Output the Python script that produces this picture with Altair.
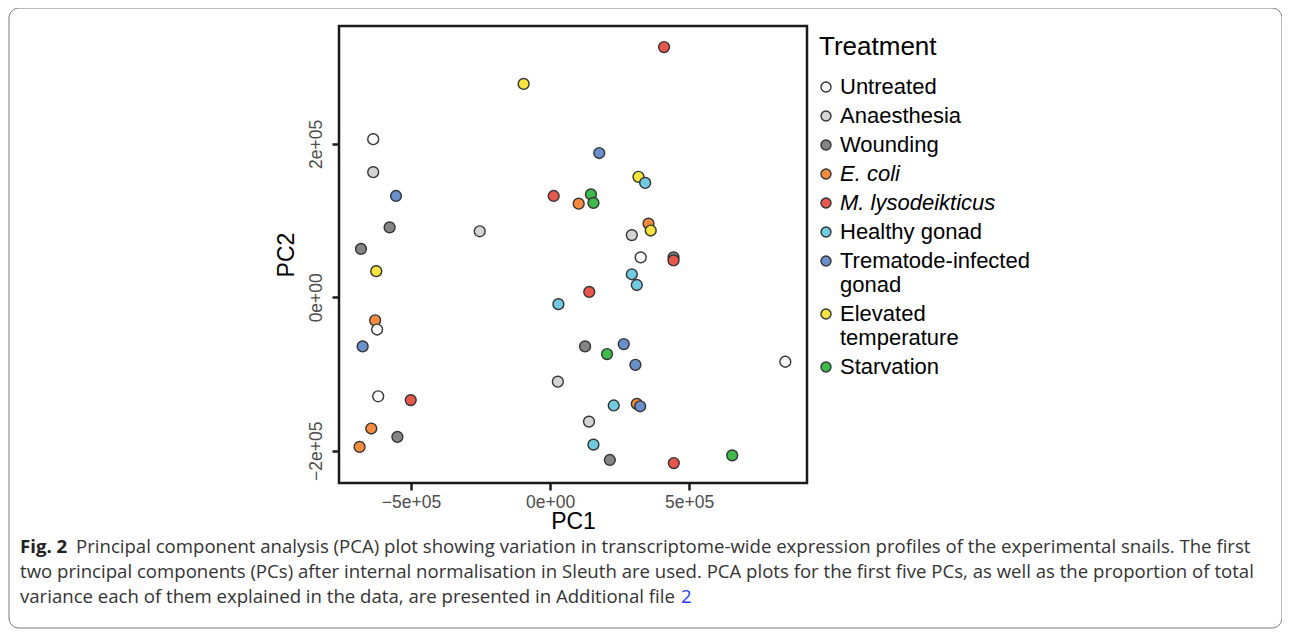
import altair as alt
import pandas as pd

# ---- data ----
treatment = [
    "M. lysodeikticus", "Elevated temperature", "Untreated", "Trematode-infected gonad",
    "Anaesthesia", "Elevated temperature", "Healthy gonad", "Trematode-infected gonad",
    "M. lysodeikticus", "Starvation", "E. coli", "Starvation",
    "Wounding", "E. coli", "Elevated temperature", "Anaesthesia",
    "Anaesthesia", "Wounding", "Untreated", "Wounding",
    "M. lysodeikticus", "Elevated temperature", "Healthy gonad", "Healthy gonad",
    "M. lysodeikticus", "Healthy gonad", "E. coli", "Untreated",
    "Trematode-infected gonad", "Wounding", "Trematode-infected gonad", "Starvation",
    "Trematode-infected gonad", "Untreated", "Anaesthesia", "Untreated",
    "M. lysodeikticus", "Healthy gonad", "E. coli", "Trematode-infected gonad",
    "Anaesthesia", "E. coli", "Wounding", "E. coli",
    "Healthy gonad", "Starvation", "Wounding", "M. lysodeikticus",
]
pc1 = [
    410000, -95000, -636000, 177000,
    -636000, 318000, 342000, -554000,
    13000, 147000, 103000, 156000,
    -577000, 354000, 362000, -253000,
    294000, -680000, 326000, 444000,
    444000, -625000, 294000, 312000,
    141000, 30000, -629000, -622000,
    -674000, 126000, 265000, 205000,
    307000, 846000, 28000, -618000,
    -501000, 229000, 312000, 324000,
    140000, -643000, -549000, -685000,
    156000, 655000, 215000, 445000,
]
pc2 = [
    326000, 278000, 206000, 188000,
    163000, 157000, 149000, 132000,
    132000, 134000, 122000, 123000,
    91000, 96000, 87000, 86000,
    81000, 63000, 52000, 52000,
    48000, 34000, 30000, 16000,
    7000, -9000, -30000, -42000,
    -64000, -64000, -61000, -74000,
    -88000, -84000, -110000, -129000,
    -134000, -141000, -139000, -142000,
    -162000, -171000, -182000, -195000,
    -192000, -206000, -212000, -216000,
]

legend_order = [
    "Untreated", "Anaesthesia", "Wounding", "E. coli", "M. lysodeikticus",
    "Healthy gonad", "Trematode-infected gonad", "Elevated temperature", "Starvation",
]
legend_colors = [
    "#ffffff", "#d4d4d4", "#858585", "#f58b3f", "#e8574b",
    "#70cbe0", "#6a8fcb", "#f4e43c", "#3dba4c",
]
legend_lines = [
    ["Untreated"], ["Anaesthesia"], ["Wounding"], ["E. coli"], ["M. lysodeikticus"],
    ["Healthy gonad"], ["Trematode-infected", "gonad"], ["Elevated", "temperature"], ["Starvation"],
]
italic_labels = ["E. coli", "M. lysodeikticus"]

x_tick_values = [-500000, 0, 500000]
x_tick_labels = ["\u22125e+05", "0e+00", "5e+05"]
y_tick_values = [-200000, 0, 200000]
y_tick_labels = ["\u22122e+05", "0e+00", "2e+05"]

caption_bold = "Fig. 2"
caption_line1 = ("Principal component analysis (PCA) plot showing variation in transcriptome-wide "
                 "expression profiles of the experimental snails. The first")
caption_line2 = ("two principal components (PCs) after internal normalisation in Sleuth are used. "
                 "PCA plots for the first five PCs, as well as the proportion of total")
caption_line3 = "variance each of them explained in the data, are presented in Additional file"
caption_link = "2"


def label_expr(values, labels, field="datum.value"):
    expr = "''"
    for v, l in zip(values, labels):
        expr = f"{field} == {v} ? '{l}' : ({expr})"
    return expr


def legend_label_expr():
    expr = "datum.label"
    for name, lines in zip(legend_order, legend_lines):
        if len(lines) > 1:
            arr = "[" + ", ".join(f"'{s}'" for s in lines) + "]"
            expr = f"datum.label == '{name}' ? {arr} : ({expr})"
    return expr


italic_expr = " || ".join(f"datum.label == '{s}'" for s in italic_labels) + " ? 'italic' : 'normal'"

df = pd.DataFrame({"PC1": pc1, "PC2": pc2, "Treatment": treatment, "ord": list(range(len(pc1)))})

FONT = "Liberation Sans"
CAP_FONT = "Open Sans"
CAP_SIZE = 18.6

points = alt.Chart(df).mark_circle(
    size=118, stroke="#333333", strokeWidth=1.4, opacity=1
).encode(
    x=alt.X(
        "PC1:Q",
        scale=alt.Scale(domain=[-759000, 924000], nice=False, zero=False),
        axis=alt.Axis(values=x_tick_values, labelExpr=label_expr(x_tick_values, x_tick_labels),
                      labelPadding=3, title="PC1", titlePadding=0),
    ),
    y=alt.Y(
        "PC2:Q",
        scale=alt.Scale(domain=[-242000, 353500], nice=False, zero=False),
        axis=alt.Axis(values=y_tick_values, labelExpr=label_expr(y_tick_values, y_tick_labels),
                      labelAngle=270, labelAlign="center", labelBaseline="bottom",
                      labelPadding=7, title="PC2", titlePadding=9),
    ),
    fill=alt.Fill(
        "Treatment:N",
        scale=alt.Scale(domain=legend_order, range=legend_colors),
        legend=alt.Legend(
            title="Treatment", orient="none", legendX=480, legendY=8,
            titleFontSize=26, titleFont=FONT, titleFontWeight="normal", titleColor="black",
            titlePadding=16,
            labelFontSize=22, labelFont=FONT, labelColor="black",
            labelFontStyle={"expr": italic_expr},
            labelExpr=legend_label_expr(), labelLimit=400,
            labelOffset=3, symbolOffset=-4,
            symbolType="circle", symbolSize=100, symbolStrokeColor="#333333",
            symbolStrokeWidth=1.4, rowPadding=7, padding=0,
        ),
    ),
    order=alt.Order("ord:Q"),
)

dummy = pd.DataFrame({"a": [0]})

border = alt.Chart(dummy).mark_rect(
    fillOpacity=0, stroke="#7a7a7a", strokeWidth=1, cornerRadius=10
).encode(
    x=alt.value(-330), x2=alt.value(943), y=alt.value(-18), y2=alt.value(602)
)

cap_bold = alt.Chart(dummy).mark_text(
    text=caption_bold, font=CAP_FONT, fontSize=CAP_SIZE, fontWeight="bold", color="#222222",
    align="left", baseline="middle"
).encode(x=alt.value(-319), y=alt.value(521))

cap1 = alt.Chart(dummy).mark_text(
    text=caption_line1, font=CAP_FONT, fontSize=CAP_SIZE, color="#333333",
    align="left", baseline="middle"
).encode(x=alt.value(-263), y=alt.value(521))

cap2 = alt.Chart(dummy).mark_text(
    text=caption_line2, font=CAP_FONT, fontSize=CAP_SIZE, color="#333333",
    align="left", baseline="middle"
).encode(x=alt.value(-319), y=alt.value(546))

cap3 = alt.Chart(dummy).mark_text(
    text=caption_line3, font=CAP_FONT, fontSize=CAP_SIZE, color="#333333",
    align="left", baseline="middle"
).encode(x=alt.value(-319), y=alt.value(571))

cap_link = alt.Chart(dummy).mark_text(
    text=caption_link, font=CAP_FONT, fontSize=CAP_SIZE, color="#2a3bff",
    align="left", baseline="middle"
).encode(x=alt.value(342), y=alt.value(571))

chart = alt.layer(border, points, cap_bold, cap1, cap2, cap3, cap_link).properties(
    width=468, height=457,
    autosize=alt.AutoSizeParams(type="none"),
    padding={"left": 331, "top": 18, "right": 475, "bottom": 146},
).configure_view(
    stroke="#1a1a1a", strokeWidth=2.5
).configure_axis(
    domain=False, grid=False, tickColor="#1a1a1a", tickWidth=2.5, tickSize=7,
    labelColor="#4d4d4d", labelFontSize=17.5, labelFont=FONT,
    titleFont=FONT, titleFontSize=23, titleFontWeight="normal", titleColor="black",
)

chart.save("out.html", embed_options={"renderer": "svg", "actions": False})
